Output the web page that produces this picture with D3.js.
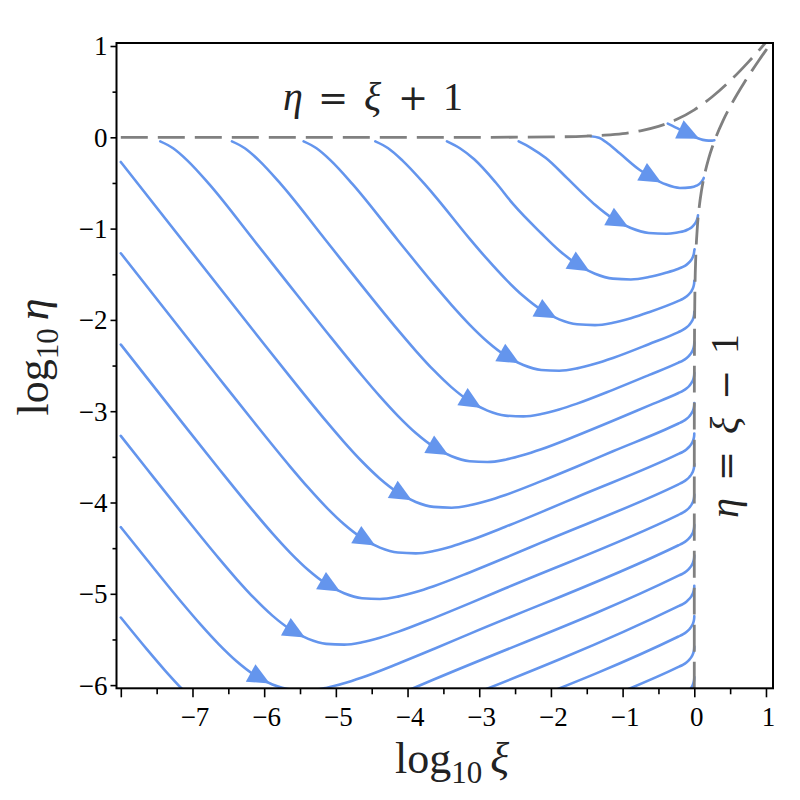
<!DOCTYPE html>
<html><head><meta charset="utf-8">
<script src="https://cdn.jsdelivr.net/npm/d3@7"></script>
<style>body{margin:0;background:#fff}</style>
</head><body>
<svg id="chart" width="800" height="800"></svg>
<script>
// ---------- data ----------
const xMajorTicks = [-8,-7,-6,-5,-4,-3,-2,-1,0,1];
const xMinorTicks = [-7.5,-6.5,-5.5,-4.5,-3.5,-2.5,-1.5,-0.5,0.5];
const yMajorTicks = [1,0,-1,-2,-3,-4,-5,-6];
const yMinorTicks = [0.5,-0.5,-1.5,-2.5,-3.5,-4.5,-5.5];

// dashed boundary eta = xi + 1  (log10 xi, log10 eta)
const upperBoundary = [[-8,0],[-3,0.0002],[-2,0.004],[-1.5,0.014],[-1.25,0.024],[-1,0.041],[-0.75,0.071],[-0.5,0.119],[-0.25,0.194],[0,0.301],[0.25,0.444],[0.5,0.619],[0.75,0.821],[1.0,1.041]];
// dashed boundary eta = xi - 1
const lowerBoundary = [[0.0000004,-6.04],[0.00001,-4.64],[0.0001,-3.64],[0.001,-2.64],[0.004,-2.034],[0.01,-1.63],[0.02,-1.327],[0.04,-1.016],[0.07,-0.757],[0.1,-0.587],[0.15,-0.385],[0.2,-0.233],[0.25,-0.109],[0.3,-0.002],[0.4,0.18],[0.5,0.335],[0.6,0.474],[0.7,0.603],[0.8,0.725],[0.9,0.842],[1.0,0.954],[1.07,1.031]];

// blue trajectories
const traj00 = [[-0.37,0.15],[-0.2,0.085],[-0.05,0.025],[0.05,-0.01],[0.12,-0.028],[0.2,-0.036],[0.25,-0.036],[0.28,-0.032]];
const traj01 = [[-1.45,0.012],[-1.33,-0.005],[-1.2,-0.07],[-1.04,-0.175],[-0.76,-0.358],[-0.6,-0.435],[-0.4,-0.515],[-0.2,-0.555],[-0.05,-0.548],[0.03,-0.53],[0.08,-0.505],[0.11,-0.478],[0.125,-0.458],[0.132,-0.445]];
const traj02 = [[-2.45,-0.045],[-2.27,-0.12],[-2.07,-0.226],[-1.77,-0.45],[-1.52,-0.642],[-1.385,-0.739],[-1.135,-0.89],[-0.885,-0.994],[-0.635,-1.048],[-0.385,-1.057],[-0.22,-1.04],[-0.15,-1.03],[-0.09,-1.01],[-0.035,-0.985],[0.0,-0.955],[0.025,-0.925],[0.04,-0.895],[0.048,-0.872],[0.052,-0.854]];
const traj03 = [[-3.45,-0.045],[-3.27,-0.12],[-3.07,-0.241],[-2.77,-0.495],[-2.52,-0.738],[-2.135,-1.051],[-1.885,-1.239],[-1.635,-1.39],[-1.385,-1.494],[-1.135,-1.548],[-0.885,-1.557],[-0.635,-1.531],[-0.385,-1.481],[-0.22,-1.439],[-0.16,-1.42],[-0.11,-1.397],[-0.065,-1.365],[-0.035,-1.333],[-0.015,-1.299],[-0.005,-1.27],[-0.001,-1.247],[0.004,-1.226]];
const traj04 = [[-4.45,-0.045],[-4.27,-0.12],[-4.07,-0.255],[-3.77,-0.505],[-3.635,-0.627],[-3.135,-1.109],[-2.885,-1.338],[-2.635,-1.551],[-2.385,-1.739],[-2.135,-1.89],[-1.885,-1.994],[-1.635,-2.048],[-1.385,-2.057],[-1.135,-2.031],[-0.885,-1.981],[-0.635,-1.917],[-0.22,-1.792],[-0.16,-1.77],[-0.11,-1.744],[-0.065,-1.711],[-0.035,-1.678],[-0.015,-1.644],[-0.005,-1.614],[-0.001,-1.591],[0,-1.571]];
const traj05 = [[-5.45,-0.045],[-5.27,-0.12],[-5.07,-0.255],[-4.77,-0.51],[-4.135,-1.127],[-3.635,-1.609],[-3.385,-1.838],[-3.135,-2.051],[-2.885,-2.239],[-2.635,-2.39],[-2.385,-2.494],[-2.135,-2.548],[-1.885,-2.557],[-1.635,-2.531],[-1.385,-2.481],[-1.135,-2.417],[-0.635,-2.266],[-0.22,-2.133],[-0.16,-2.11],[-0.11,-2.084],[-0.065,-2.05],[-0.035,-2.017],[-0.015,-1.983],[-0.005,-1.953],[-0.001,-1.93],[0,-1.91]];
const traj06 = [[-6.45,-0.045],[-6.27,-0.12],[-6.07,-0.255],[-5.77,-0.51],[-5.135,-1.133],[-4.635,-1.627],[-4.135,-2.109],[-3.885,-2.338],[-3.635,-2.551],[-3.385,-2.739],[-3.135,-2.89],[-2.885,-2.994],[-2.635,-3.048],[-2.385,-3.057],[-2.135,-3.031],[-1.885,-2.981],[-1.635,-2.917],[-1.135,-2.766],[-0.635,-2.605],[-0.22,-2.468],[-0.16,-2.445],[-0.11,-2.419],[-0.065,-2.385],[-0.035,-2.352],[-0.015,-2.318],[-0.005,-2.288],[-0.001,-2.265],[0,-2.245]];
const traj07 = [[-7.45,-0.045],[-7.27,-0.12],[-7.07,-0.255],[-6.77,-0.51],[-6.135,-1.135],[-5.635,-1.633],[-5.135,-2.127],[-4.635,-2.609],[-4.385,-2.838],[-4.135,-3.051],[-3.885,-3.239],[-3.635,-3.39],[-3.385,-3.494],[-3.135,-3.548],[-2.885,-3.557],[-2.635,-3.531],[-2.385,-3.481],[-2.135,-3.417],[-1.635,-3.266],[-1.135,-3.105],[-0.635,-2.939],[-0.22,-2.801],[-0.16,-2.778],[-0.11,-2.752],[-0.065,-2.718],[-0.035,-2.685],[-0.015,-2.651],[-0.005,-2.621],[-0.001,-2.598],[0,-2.578]];
const traj08 = [[-8,-0.27],[-6.135,-2.133],[-5.635,-2.627],[-5.135,-3.109],[-4.885,-3.338],[-4.635,-3.551],[-4.385,-3.739],[-4.135,-3.89],[-3.885,-3.994],[-3.635,-4.048],[-3.385,-4.057],[-3.135,-4.031],[-2.885,-3.981],[-2.635,-3.917],[-2.135,-3.766],[-1.635,-3.605],[-1.135,-3.439],[-0.22,-3.135],[-0.16,-3.112],[-0.11,-3.086],[-0.065,-3.052],[-0.035,-3.019],[-0.015,-2.985],[-0.005,-2.955],[-0.001,-2.932],[0,-2.912]];
const traj09 = [[-8,-1.27],[-6.635,-2.633],[-6.135,-3.127],[-5.635,-3.609],[-5.385,-3.838],[-5.135,-4.051],[-4.885,-4.239],[-4.635,-4.39],[-4.385,-4.494],[-4.135,-4.548],[-3.885,-4.557],[-3.635,-4.531],[-3.385,-4.481],[-3.135,-4.417],[-2.635,-4.266],[-2.135,-4.105],[-1.635,-3.939],[-0.22,-3.468],[-0.16,-3.445],[-0.11,-3.419],[-0.065,-3.385],[-0.035,-3.352],[-0.015,-3.318],[-0.005,-3.288],[-0.001,-3.265],[0,-3.245]];
const traj10 = [[-8,-2.27],[-7.135,-3.133],[-6.635,-3.627],[-6.135,-4.109],[-5.885,-4.338],[-5.635,-4.551],[-5.385,-4.739],[-5.135,-4.89],[-4.885,-4.994],[-4.635,-5.048],[-4.385,-5.057],[-4.135,-5.031],[-3.885,-4.981],[-3.635,-4.917],[-3.135,-4.766],[-2.635,-4.605],[-2.135,-4.439],[-0.22,-3.801],[-0.16,-3.778],[-0.11,-3.752],[-0.065,-3.718],[-0.035,-3.685],[-0.015,-3.651],[-0.005,-3.621],[-0.001,-3.598],[0,-3.578]];
const traj11 = [[-8,-3.27],[-7.635,-3.633],[-7.135,-4.127],[-6.635,-4.609],[-6.385,-4.838],[-6.135,-5.051],[-5.885,-5.239],[-5.635,-5.39],[-5.385,-5.494],[-5.135,-5.548],[-4.885,-5.557],[-4.635,-5.531],[-4.385,-5.481],[-4.135,-5.417],[-3.635,-5.266],[-3.135,-5.105],[-2.635,-4.939],[-0.22,-4.135],[-0.16,-4.112],[-0.11,-4.086],[-0.065,-4.052],[-0.035,-4.019],[-0.015,-3.985],[-0.005,-3.955],[-0.001,-3.932],[0,-3.912]];
const traj12 = [[-8,-4.27],[-7.635,-4.627],[-7.135,-5.109],[-6.885,-5.338],[-6.635,-5.551],[-6.385,-5.739],[-6.135,-5.89],[-5.885,-5.994],[-5.635,-6.048],[-5.385,-6.057],[-5.135,-6.031],[-4.885,-5.981],[-4.635,-5.917],[-4.135,-5.766],[-3.635,-5.605],[-3.135,-5.439],[-0.22,-4.468],[-0.16,-4.445],[-0.11,-4.419],[-0.065,-4.385],[-0.035,-4.352],[-0.015,-4.318],[-0.005,-4.288],[-0.001,-4.265],[0,-4.245]];
const traj13 = [[-8,-5.26],[-7.635,-5.609],[-7.385,-5.838],[-7.135,-6.051],[-6.885,-6.239],[-6.635,-6.39],[-6.385,-6.494],[-6.135,-6.548],[-5.885,-6.557],[-5.635,-6.531],[-5.385,-6.481],[-5.135,-6.417],[-4.635,-6.266],[-4.135,-6.105],[-3.635,-5.939],[-0.22,-4.801],[-0.16,-4.778],[-0.11,-4.752],[-0.065,-4.718],[-0.035,-4.685],[-0.015,-4.651],[-0.005,-4.621],[-0.001,-4.598],[0,-4.578]];
const traj14 = [[-3.5,-6.229],[-0.22,-5.135],[-0.16,-5.112],[-0.11,-5.086],[-0.065,-5.052],[-0.035,-5.019],[-0.015,-4.985],[-0.005,-4.955],[-0.001,-4.932],[0,-4.912]];
const traj15 = [[-2.5,-6.228],[-0.22,-5.468],[-0.16,-5.445],[-0.11,-5.419],[-0.065,-5.385],[-0.035,-5.352],[-0.015,-5.318],[-0.005,-5.288],[-0.001,-5.265],[0,-5.245]];
const traj16 = [[-1.5,-6.228],[-0.22,-5.801],[-0.16,-5.778],[-0.11,-5.752],[-0.065,-5.718],[-0.035,-5.685],[-0.015,-5.651],[-0.005,-5.621],[-0.001,-5.598],[0,-5.578]];
const traj17 = [[-0.6,-6.262],[-0.22,-6.135],[-0.16,-6.112],[-0.11,-6.086],[-0.065,-6.052],[-0.035,-6.019],[-0.015,-5.985],[-0.005,-5.955],[-0.001,-5.932],[0,-5.912]];

const trajectories = [traj00,traj01,traj02,traj03,traj04,traj05,traj06,traj07,traj08,traj09,traj10,traj11,traj12,traj13,traj14,traj15,traj16,traj17];
// x position (log10 xi) of each arrow head tip; null = no arrow
const arrowTipX = [0.07,-0.46,-0.92,-1.46,-1.92,-2.44,-2.97,-3.43,-3.94,-4.45,-4.94,-5.43,-5.92,null,null,null,null,null];

// ---------- drawing ----------
const BLUE = "#6495ED", GRAY = "#808080";
const svg = d3.select("#chart");
const plot = {left:116.5, right:773, top:43, bottom:688.3};
const x = d3.scaleLinear().domain([-8.06, 1.098]).range([plot.left, plot.right]);
const y = d3.scaleLinear().domain([-6.035, 1.033]).range([plot.bottom, plot.top]);

svg.append("defs").append("clipPath").attr("id","plotClip")
  .append("rect").attr("x",plot.left).attr("y",plot.top)
  .attr("width",plot.right-plot.left).attr("height",plot.bottom-plot.top);

const line = d3.line().x(d=>x(d[0])).y(d=>y(d[1])).curve(d3.curveMonotoneX);

const gCurves = svg.append("g").attr("clip-path","url(#plotClip)");
const paths = gCurves.selectAll("path.traj").data(trajectories).join("path")
  .attr("class","traj").attr("d",line)
  .attr("fill","none").attr("stroke",BLUE).attr("stroke-width",2.6)
  .attr("stroke-linejoin","round").attr("stroke-linecap","round");

// arrow heads along the curves
const gArrows = svg.append("g");
paths.each(function(d,i){
  const tipX = arrowTipX[i];
  if (tipX === null || tipX === undefined) return;
  const node = this, total = node.getTotalLength(), target = x(tipX);
  let lo=0, hi=total;
  for (let k=0;k<40;k++){ const mid=(lo+hi)/2; if (node.getPointAtLength(mid).x < target) lo=mid; else hi=mid; }
  const L=(lo+hi)/2;
  const tip=node.getPointAtLength(L), back=node.getPointAtLength(Math.max(0,L-18));
  let dx=tip.x-back.x, dy=tip.y-back.y; const n=Math.hypot(dx,dy)||1; dx/=n; dy/=n;
  const len=22, hw=10, bx=tip.x-dx*len, by=tip.y-dy*len;
  gArrows.append("polygon")
    .attr("points",[[tip.x,tip.y],[bx-dy*hw,by+dx*hw],[bx+dy*hw,by-dx*hw]].map(p=>p.join(",")).join(" "))
    .attr("fill",BLUE);
});

// dashed boundaries
const gDash = svg.append("g").attr("clip-path","url(#plotClip)");
[upperBoundary, lowerBoundary].forEach(b=>{
  gDash.append("path").attr("d",line(b)).attr("fill","none")
    .attr("stroke",GRAY).attr("stroke-width",2.8).attr("stroke-dasharray","27,10");
});

// frame
svg.append("rect").attr("x",plot.left).attr("y",plot.top)
  .attr("width",plot.right-plot.left).attr("height",plot.bottom-plot.top)
  .attr("fill","none").attr("stroke","#000").attr("stroke-width",2);

// axes
const fmt = d3.format("d");
const serif = "'Liberation Serif','Times New Roman',serif";
function styleAxis(g){
  g.select(".domain").remove();
  g.selectAll(".tick line").attr("stroke","#000").attr("stroke-width",1.6);
}
const gxMinor = svg.append("g").attr("transform",`translate(0,${plot.bottom})`)
  .call(d3.axisBottom(x).tickValues(xMinorTicks).tickSize(6).tickFormat(""));
styleAxis(gxMinor);
const gx = svg.append("g").attr("transform",`translate(0,${plot.bottom})`)
  .call(d3.axisBottom(x).tickValues(xMajorTicks).tickSize(9).tickFormat(d=> d===-8 ? "" : fmt(d)));
styleAxis(gx);
gx.selectAll(".tick text").attr("y",38).attr("dy",0).attr("dx",2)
  .style("font-family",serif).style("font-size","27px").attr("fill","#000");

const gyMinor = svg.append("g").attr("transform",`translate(${plot.left},0)`)
  .call(d3.axisLeft(y).tickValues(yMinorTicks).tickSize(4).tickFormat(""));
styleAxis(gyMinor);
const gy = svg.append("g").attr("transform",`translate(${plot.left},0)`)
  .call(d3.axisLeft(y).tickValues(yMajorTicks).tickSize(6).tickFormat(fmt));
styleAxis(gy);
gy.selectAll(".tick text").attr("x",-9).attr("dy","0.33em")
  .style("font-family",serif).style("font-size","27px").attr("fill","#000");

// axis titles
const xt = svg.append("text").attr("x",452).attr("y",773).attr("text-anchor","middle")
  .style("font-family",serif).style("font-size","44px").attr("fill","#222");
xt.append("tspan").text("log");
xt.append("tspan").style("font-size","31px").attr("dy",10).text("10");
xt.append("tspan").attr("dy",-10).attr("dx",8).attr("font-style","italic").text("ξ");

const yt = svg.append("text").attr("transform","translate(48,357) rotate(-90)").attr("text-anchor","middle")
  .style("font-family",serif).style("font-size","44px").attr("fill","#222");
yt.append("tspan").text("log");
yt.append("tspan").style("font-size","31px").attr("dy",10).text("10");
yt.append("tspan").attr("dy",-10).attr("dx",8).attr("font-style","italic").text("η");

// boundary labels
function mathLabel(g, pieces){
  pieces.forEach(p=>{
    g.append("text").attr("x",p.x).attr("y",0)
      .style("font-family", p.sym ? "'DejaVu Serif',serif" : serif)
      .style("font-style", p.it ? "italic" : "normal")
      .style("font-size", p.sym ? "36px" : "40px").attr("fill","#222").text(p.t);
  });
}
const topLab = svg.append("g").attr("transform","translate(0,110)");
mathLabel(topLab,[{t:"η",x:283,it:true},{t:"=",x:318,sym:true},{t:"ξ",x:364,it:true},{t:"+",x:398,sym:true},{t:"1",x:443}]);
const sideLab = svg.append("g").attr("transform","translate(738,0) rotate(-90)");
mathLabel(sideLab,[{t:"η",x:-518,it:true},{t:"=",x:-481,sym:true},{t:"ξ",x:-434,it:true},{t:"−",x:-400,sym:true},{t:"1",x:-354}]);
</script>
</body></html>
